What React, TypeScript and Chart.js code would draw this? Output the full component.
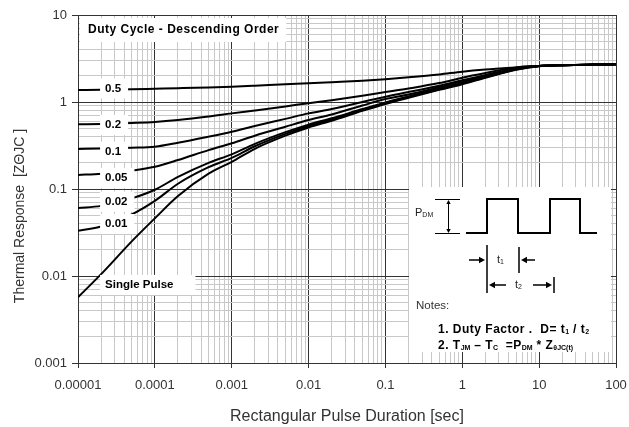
import React, { useEffect, useRef } from 'react';
import { Chart, registerables } from 'chart.js';

Chart.register(...registerables);

// ---- data ----
const durations = [1e-5, 2e-5, 5e-5, 1e-4, 2e-4, 5e-4, 1e-3, 2e-3, 5e-3, 1e-2, 2e-2, 5e-2, 0.1, 0.2, 0.5, 1, 2, 5, 10, 20, 50, 100];

const duty05 = [1.37, 1.38, 1.40, 1.42, 1.44, 1.47, 1.50, 1.54, 1.60, 1.64, 1.69, 1.76, 1.83, 1.92, 2.07, 2.23, 2.36, 2.50, 2.60, 2.65, 2.69, 2.71];
const duty02 = [0.555, 0.56, 0.575, 0.59, 0.62, 0.68, 0.74, 0.80, 0.89, 0.97, 1.05, 1.18, 1.30, 1.43, 1.65, 1.90, 2.15, 2.50, 2.60, 2.65, 2.69, 2.71];
const duty01 = [0.288, 0.292, 0.298, 0.306, 0.34, 0.40, 0.456, 0.53, 0.64, 0.74, 0.83, 1.00, 1.15, 1.30, 1.54, 1.78, 2.04, 2.45, 2.59, 2.65, 2.69, 2.71];
const duty005 = [0.145, 0.150, 0.163, 0.18, 0.215, 0.28, 0.335, 0.41, 0.52, 0.62, 0.72, 0.91, 1.08, 1.22, 1.48, 1.72, 2.00, 2.42, 2.59, 2.65, 2.69, 2.71];
const duty002 = [0.0605, 0.064, 0.078, 0.098, 0.138, 0.20, 0.25, 0.33, 0.45, 0.55, 0.65, 0.83, 0.99, 1.16, 1.42, 1.66, 1.95, 2.39, 2.59, 2.65, 2.69, 2.71];
const duty001 = [0.0332, 0.037, 0.051, 0.073, 0.115, 0.178, 0.228, 0.31, 0.43, 0.53, 0.63, 0.81, 0.97, 1.14, 1.40, 1.63, 1.92, 2.37, 2.59, 2.65, 2.69, 2.71];
const singlePulse = [0.0057, 0.0105, 0.025, 0.046, 0.083, 0.15, 0.205, 0.29, 0.41, 0.51, 0.61, 0.79, 0.95, 1.12, 1.38, 1.60, 1.90, 2.35, 2.58, 2.64, 2.68, 2.70];

const seriesNames = ['0.5', '0.2', '0.1', '0.05', '0.02', '0.01', 'Single Pulse'];
const seriesValues = [duty05, duty02, duty01, duty005, duty002, duty001, singlePulse];

const xMajors = [1e-5, 1e-4, 1e-3, 1e-2, 0.1, 1, 10, 100];
const xTickLabels = ['0.00001', '0.0001', '0.001', '0.01', '0.1', '1', '10', '100'];
const yMajors = [0.001, 0.01, 0.1, 1, 10];
const yTickLabels = ['0.001', '0.01', '0.1', '1', '10'];

const xTitle = 'Rectangular Pulse Duration [sec]';
const yTitle = 'Thermal Response  [ZΘJC ]';
const chartNote = 'Duty Cycle - Descending Order';

// label anchors (data units) for the curve labels
const labelAnchorX = 2.25e-5;
const labelAnchorY = [1.43, 0.544, 0.268, 0.134, 0.0714, 0.0396, 0.0079];

const FONT = '"Liberation Sans", Arial, Helvetica, sans-serif';

function isMajor(v: number) {
  const l = Math.log10(v);
  return Math.abs(l - Math.round(l)) < 1e-6;
}

function decadeTicks(min: number, max: number) {
  const out: number[] = [];
  const e0 = Math.round(Math.log10(min));
  const e1 = Math.round(Math.log10(max));
  for (let e = e0; e < e1; e++) {
    for (let k = 1; k < 10; k++) out.push(k * Math.pow(10, e));
  }
  out.push(max);
  return out;
}

function majorLabel(v: number, majors: number[], labels: string[]) {
  for (let i = 0; i < majors.length; i++) {
    if (Math.abs(Math.log10(v) - Math.log10(majors[i])) < 1e-6) return labels[i];
  }
  return '';
}

function drawArrow(ctx: CanvasRenderingContext2D, x1: number, y1: number, x2: number, y2: number, head = 5) {
  const ang = Math.atan2(y2 - y1, x2 - x1);
  ctx.beginPath();
  ctx.moveTo(x1, y1);
  ctx.lineTo(x2 - Math.cos(ang) * head * 0.8, y2 - Math.sin(ang) * head * 0.8);
  ctx.stroke();
  ctx.beginPath();
  ctx.moveTo(x2, y2);
  ctx.lineTo(x2 - head * Math.cos(ang) + (head * 0.55) * Math.sin(ang), y2 - head * Math.sin(ang) - (head * 0.55) * Math.cos(ang));
  ctx.lineTo(x2 - head * Math.cos(ang) - (head * 0.55) * Math.sin(ang), y2 - head * Math.sin(ang) + (head * 0.55) * Math.cos(ang));
  ctx.closePath();
  ctx.fill();
}

type Seg = { t: string; sub?: boolean };
function drawRich(ctx: CanvasRenderingContext2D, segs: Seg[], x: number, y: number, size: number, bold: boolean, spacing = 0) {
  let cx = x;
  const c: any = ctx;
  for (const s of segs) {
    const fs = s.sub ? Math.round(size * 0.62) : size;
    ctx.font = `${bold ? 'bold ' : ''}${fs}px ${FONT}`;
    c.letterSpacing = s.sub ? '0px' : `${spacing}px`;
    ctx.fillText(s.t, cx, s.sub ? y + 2 : y);
    cx += ctx.measureText(s.t).width;
  }
  c.letterSpacing = '0px';
  return cx;
}

const overlayPlugin = {
  id: 'overlay',
  afterDatasetsDraw(chart: any) {
    const { ctx, scales } = chart;
    const xs = scales.x;
    const ys = scales.y;
    const c: any = ctx;
    ctx.save();
    ctx.textBaseline = 'middle';
    ctx.textAlign = 'left';

    // note box
    {
      const px = xs.getPixelForValue(1.35e-5);
      const py = ys.getPixelForValue(6.72);
      ctx.font = `bold 12px ${FONT}`;
      c.letterSpacing = '0.5px';
      const w = ctx.measureText(chartNote).width;
      ctx.fillStyle = '#ffffff';
      ctx.fillRect(px - 8, py - 12, w + 15, 24);
      ctx.fillStyle = '#000000';
      ctx.fillText(chartNote, px, py);
      c.letterSpacing = '0px';
    }

    // curve labels
    ctx.font = `bold 11.5px ${FONT}`;
    seriesNames.forEach((name, i) => {
      const px = xs.getPixelForValue(labelAnchorX);
      const py = ys.getPixelForValue(labelAnchorY[i]);
      const w = ctx.measureText(name).width;
      const padR = name === 'Single Pulse' ? 22 : 7;
      ctx.fillStyle = '#ffffff';
      ctx.fillRect(px - 5, py - 10, w + 5 + padR, 20);
      ctx.fillStyle = '#000000';
      ctx.fillText(name, px, py);
    });

    // inset
    const ox = Math.round(xs.getPixelForValue(0.203));
    const oy = Math.round(ys.getPixelForValue(0.105));
    const ox2 = Math.round(xs.getPixelForValue(86));
    const oy2 = Math.round(ys.getPixelForValue(0.00134));
    ctx.fillStyle = '#ffffff';
    ctx.fillRect(ox, oy, ox2 - ox, oy2 - oy);

    ctx.fillStyle = '#000000';
    ctx.strokeStyle = '#000000';
    // P_DM label
    ctx.fillStyle = '#222';
    drawRich(ctx, [{ t: 'P' }, { t: 'DM', sub: true }], ox + 6, oy + 26, 11, false);
    // level marks
    ctx.lineWidth = 1;
    ctx.beginPath();
    ctx.moveTo(ox + 26, oy + 12.5); ctx.lineTo(ox + 51, oy + 12.5);
    ctx.moveTo(ox + 26, oy + 46.5); ctx.lineTo(ox + 51, oy + 46.5);
    ctx.stroke();
    ctx.fillStyle = '#000';
    drawArrow(ctx, ox + 39.5, oy + 29, ox + 39.5, oy + 13, 4);
    drawArrow(ctx, ox + 39.5, oy + 29, ox + 39.5, oy + 46, 4);
    // waveform
    ctx.lineWidth = 2;
    ctx.lineJoin = 'miter';
    ctx.beginPath();
    const lo = oy + 46, hi = oy + 12;
    ctx.moveTo(ox + 57, lo);
    ctx.lineTo(ox + 78, lo); ctx.lineTo(ox + 78, hi);
    ctx.lineTo(ox + 109, hi); ctx.lineTo(ox + 109, lo);
    ctx.lineTo(ox + 141, lo); ctx.lineTo(ox + 141, hi);
    ctx.lineTo(ox + 171, hi); ctx.lineTo(ox + 171, lo);
    ctx.lineTo(ox + 188, lo);
    ctx.stroke();
    // t1 / t2 markers
    ctx.lineWidth = 1.5;
    ctx.beginPath();
    ctx.moveTo(ox + 78, oy + 58); ctx.lineTo(ox + 78, oy + 106);
    ctx.moveTo(ox + 110, oy + 60); ctx.lineTo(ox + 110, oy + 86);
    ctx.moveTo(ox + 145, oy + 90); ctx.lineTo(ox + 145, oy + 106);
    ctx.stroke();
    ctx.lineWidth = 1.5;
    drawArrow(ctx, ox + 60, oy + 73, ox + 76, oy + 73, 6);
    drawArrow(ctx, ox + 126, oy + 73, ox + 112, oy + 73, 6);
    drawArrow(ctx, ox + 97, oy + 98, ox + 80, oy + 98, 6);
    drawArrow(ctx, ox + 124, oy + 98, ox + 143, oy + 98, 6);
    ctx.fillStyle = '#222';
    drawRich(ctx, [{ t: 't' }, { t: '1', sub: true }], ox + 88, oy + 73, 11, false);
    drawRich(ctx, [{ t: 't' }, { t: '2', sub: true }], ox + 106, oy + 98, 11, false);
    // notes
    ctx.fillStyle = '#333';
    drawRich(ctx, [{ t: 'Notes:' }], ox + 7, oy + 119, 11.5, false);
    ctx.fillStyle = '#000';
    drawRich(ctx, [{ t: '1. Duty Factor .  D= t' }, { t: '1', sub: true }, { t: ' / t' }, { t: '2', sub: true }], ox + 29, oy + 143, 12, true, 0.5);
    drawRich(ctx, [{ t: '2. T' }, { t: 'JM', sub: true }, { t: ' – T' }, { t: 'C', sub: true }, { t: '  =P' }, { t: 'DM', sub: true }, { t: ' * Z' }, { t: 'θJC(t)', sub: true }], ox + 29, oy + 159, 12, true, 0.5);

    ctx.restore();
  },
  afterDraw(chart: any) {
    const { ctx, chartArea } = chart;
    ctx.save();
    ctx.fillStyle = '#333';
    ctx.textAlign = 'center';
    ctx.textBaseline = 'middle';
    ctx.font = `16px ${FONT}`;
    ctx.fillText(xTitle, (chartArea.left + chartArea.right) / 2, chartArea.bottom + 54);
    ctx.font = `14px ${FONT}`;
    ctx.translate(20, chartArea.top + 201);
    ctx.rotate(-Math.PI / 2);
    ctx.fillText(yTitle, 0, 0);
    ctx.restore();
  },
};

export default function App() {
  const canvasRef = useRef<HTMLCanvasElement | null>(null);

  useEffect(() => {
    if (!canvasRef.current) return;
    const datasets = seriesNames.map((name, i) => ({
      label: name,
      data: durations.map((t, j) => ({ x: t, y: seriesValues[i][j] })),
      borderColor: '#000000',
      backgroundColor: '#000000',
      borderWidth: 2,
      pointRadius: 0,
      fill: false,
      cubicInterpolationMode: 'monotone' as const,
    }));

    const gridColor = (c: any) => (c.tick && isMajor(c.tick.value) ? '#333333' : '#c8c8c8');
    const tickColor = (c: any) => (c.tick && isMajor(c.tick.value) ? '#333333' : 'rgba(0,0,0,0)');

    const chart = new Chart(canvasRef.current, {
      type: 'line',
      data: { datasets },
      plugins: [overlayPlugin],
      options: {
        animation: false,
        responsive: false,
        devicePixelRatio: 1,
        layout: { padding: { top: 15, right: 13, left: 0, bottom: 0 } },
        plugins: { legend: { display: false }, tooltip: { enabled: false }, title: { display: false } },
        scales: {
          x: {
            type: 'logarithmic',
            min: 1e-5,
            max: 100,
            afterBuildTicks: (s: any) => {
              s.ticks = decadeTicks(1e-5, 100).map((v) => ({ value: v, major: isMajor(v) }));
            },
            afterFit: (s: any) => {
              s.height = 64;
              s.paddingLeft = 0;
              s.paddingRight = 0;
            },
            border: { display: true, color: '#333333', width: 1 },
            grid: { color: gridColor, tickColor, tickLength: 5, lineWidth: 1, drawTicks: true },
            ticks: {
              autoSkip: false,
              maxRotation: 0,
              minRotation: 0,
              padding: 10,
              color: '#333',
              font: { family: FONT, size: 13 },
              callback: (v: any) => majorLabel(Number(v), xMajors, xTickLabels),
            },
          },
          y: {
            type: 'logarithmic',
            min: 0.001,
            max: 10,
            afterBuildTicks: (s: any) => {
              s.ticks = decadeTicks(0.001, 10).map((v) => ({ value: v, major: isMajor(v) }));
            },
            afterFit: (s: any) => {
              s.width = 78;
              s.paddingTop = 0;
              s.paddingBottom = 0;
            },
            border: { display: true, color: '#333333', width: 1 },
            grid: { color: gridColor, tickColor, tickLength: 6, lineWidth: 1, drawTicks: true },
            ticks: {
              autoSkip: false,
              padding: 5,
              color: '#333',
              font: { family: FONT, size: 13 },
              callback: (v: any) => majorLabel(Number(v), yMajors, yTickLabels),
            },
          },
        },
      },
    } as any);

    return () => {
      chart.destroy();
    };
  }, []);

  return (
    <div style={{ position: 'fixed', left: 0, top: 0, width: 629, height: 427, background: '#ffffff' }}>
      <canvas ref={canvasRef} width={629} height={427} style={{ display: 'block', width: 629, height: 427 }} />
    </div>
  );
}
